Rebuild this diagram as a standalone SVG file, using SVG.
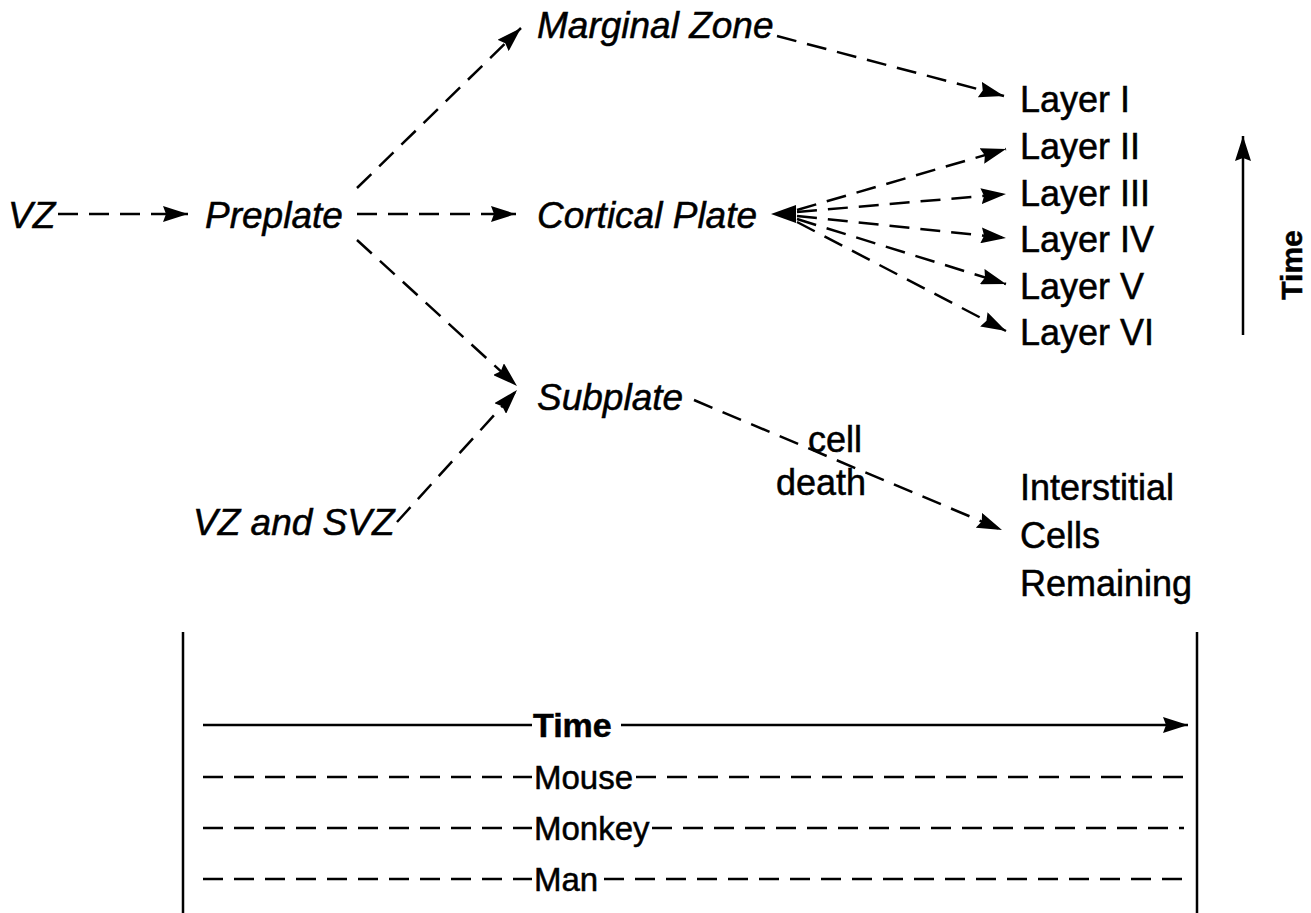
<svg xmlns="http://www.w3.org/2000/svg" width="1311" height="913" viewBox="0 0 1311 913">
<style>
text{font-family:"Liberation Sans",Arial,sans-serif;fill:#000;stroke:#000;stroke-width:0.5}
.it{font-style:italic;font-size:37px}
.up{font-size:36px}
.sm{font-size:33px}
.bd{font-weight:bold;font-size:34px}
.d{fill:none;stroke:#000;stroke-width:2.5;stroke-dasharray:20 11}
.s{fill:none;stroke:#000;stroke-width:2.5}
</style>
<defs>
<marker id="ah" viewBox="0 0 25 16" markerWidth="25" markerHeight="16" refX="25" refY="8" orient="auto" markerUnits="userSpaceOnUse">
<path d="M0,0 L25,8 L0,16 L3,8 z" fill="#000"/>
</marker>
</defs>
<rect width="1311" height="913" fill="#fff"/>
<g id="connectors">
<path class="d" d="M58,214 L188,214" marker-end="url(#ah)"/>
<path class="d" d="M357,188 L521,28" marker-end="url(#ah)"/>
<path class="d" d="M357,214 L516,214" marker-end="url(#ah)"/>
<path class="d" d="M357,240 L517,386" marker-end="url(#ah)"/>
<path class="d" d="M397,522 L517,390" marker-end="url(#ah)"/>
<path class="d" d="M777,36 L1004,96" marker-end="url(#ah)"/>
<path d="M771,214 L796,205 L796,223 z" fill="#000"/>
<path class="d" d="M797,210 L1006,149" marker-end="url(#ah)"/>
<path class="d" d="M797,212 L1006,194" marker-end="url(#ah)"/>
<path class="d" d="M797,216 L1006,238" marker-end="url(#ah)"/>
<path class="d" d="M797,219 L1006,284" marker-end="url(#ah)"/>
<path class="d" d="M797,222 L1006,331" marker-end="url(#ah)"/>
<path class="d" d="M694,400 L1002,530" marker-end="url(#ah)"/>
<path class="s" d="M1243,335 L1243,136" marker-end="url(#ah)"/>
</g>
<g id="n-vz"><text class="it" x="8" y="228">VZ</text></g>
<g id="n-preplate"><text class="it" x="205" y="228">Preplate</text></g>
<g id="n-marginal"><text class="it" x="537" y="38">Marginal Zone</text></g>
<g id="n-cortical"><text class="it" x="537" y="228">Cortical Plate</text></g>
<g id="n-subplate"><text class="it" x="537" y="410">Subplate</text></g>
<g id="n-vzsvz"><text class="it" x="193" y="535">VZ and SVZ</text></g>
<g id="n-layers">
<text class="up" x="1020" y="112">Layer I</text>
<text class="up" x="1020" y="159">Layer II</text>
<text class="up" x="1020" y="206">Layer III</text>
<text class="up" x="1020" y="252">Layer IV</text>
<text class="up" x="1020" y="299">Layer V</text>
<text class="up" x="1020" y="345">Layer VI</text>
</g>
<g id="n-interstitial">
<text class="up" x="1020" y="500">Interstitial</text>
<text class="up" x="1020" y="548">Cells</text>
<text class="up" x="1020" y="596">Remaining</text>
</g>
<g id="l-celldeath">
<text class="up" x="808" y="452">cell</text>
<text class="up" x="776" y="495">death</text>
</g>
<g id="time-axis"><text class="bd" style="font-size:30px" transform="translate(1302,265) rotate(-90)" text-anchor="middle">Time</text></g>
<g id="timeline">
<path class="s" d="M183,632 L183,913 M1197,632 L1197,913"/>
<path class="s" d="M203,725 L532,725"/>
<path class="s" d="M621,725 L1188,725" marker-end="url(#ah)"/>
<text class="bd" x="533" y="737">Time</text>
<path class="d" d="M203,777 L532,777 M636,777 L1184,777"/>
<text class="sm" x="534" y="789">Mouse</text>
<path class="d" d="M203,828 L532,828 M652,828 L1184,828"/>
<text class="sm" x="534" y="840">Monkey</text>
<path class="d" d="M203,879 L532,879 M604,879 L1184,879"/>
<text class="sm" x="534" y="891">Man</text>
</g>
</svg>
